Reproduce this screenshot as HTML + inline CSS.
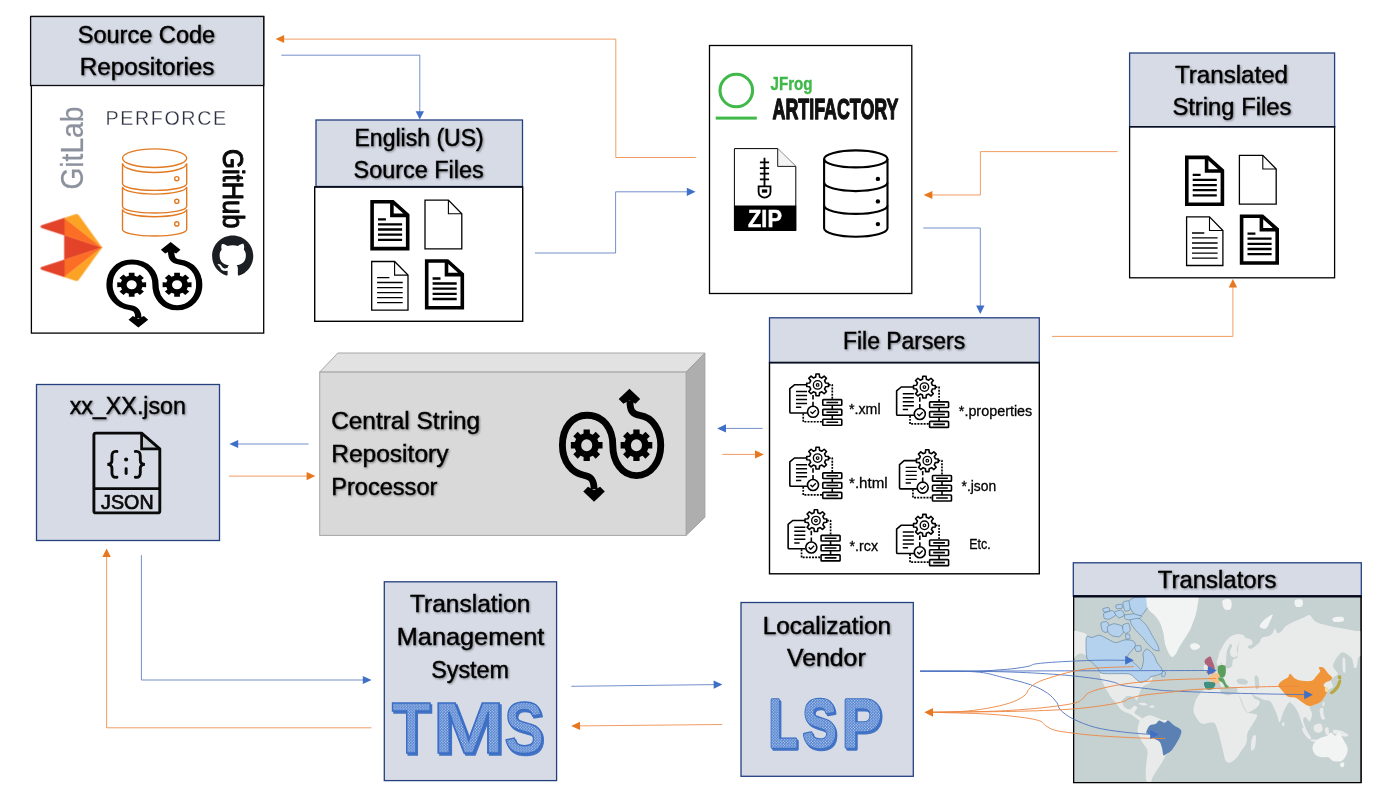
<!DOCTYPE html>
<html lang="en"><head><meta charset="utf-8"><title>Localization pipeline</title>
<style>
html,body{margin:0;padding:0;background:#fff;}
body{width:1400px;height:797px;overflow:hidden;font-family:"Liberation Sans",sans-serif;}
svg{display:block;will-change:transform;}
text{font-family:"Liberation Sans",sans-serif;}
.t{font-size:23px;fill:#000;stroke:#000;stroke-width:0.4px;filter:url(#ts);}
.s{font-size:15px;fill:#000;stroke:#000;stroke-width:0.3px;}
.ln{fill:none;stroke-width:0.85;}
.b{stroke:#5a7cc2;} .o{stroke:#ee8a48;}
.fb{fill:#3f6fc6;} .fo{fill:#e8781f;}
</style></head><body>
<svg width="1400" height="797" viewBox="0 0 1400 797">
<!-- 00_defs.svg -->
<defs>
  <filter id="ts" x="-5%" y="-20%" width="110%" height="150%">
    <feGaussianBlur in="SourceAlpha" stdDeviation="0.8" result="b"/>
    <feOffset in="b" dx="0.8" dy="0.8" result="o"/>
    <feComponentTransfer in="o" result="s"><feFuncA type="linear" slope="0.42"/></feComponentTransfer>
    <feMerge><feMergeNode in="s"/><feMergeNode in="SourceGraphic"/></feMerge>
  </filter>
  <pattern id="dots" width="2.8" height="2.8" patternUnits="userSpaceOnUse">
    <rect width="2.8" height="2.8" fill="#4377cb"/>
    <circle cx="0.7" cy="0.7" r="0.62" fill="#e4ecf9"/>
    <circle cx="2.1" cy="2.1" r="0.62" fill="#e4ecf9"/>
  </pattern>
</defs>

<!-- 01_syms.svg -->
<defs>
  <!-- bold document 39.2 x 50.4 -->
  <g id="docB">
    <path d="M1.8,1.8 H22.6 L37.4,15 V48.6 H1.8 Z" fill="#fff" stroke="#000" stroke-width="3.6" stroke-linejoin="miter"/>
    <path d="M21.6,1.8 V15.4 H37.4" fill="none" stroke="#000" stroke-width="3.6"/>
    <path d="M22.6,0.5 L38.7,14.8 V17 H36 Z" fill="#000"/>
    <path d="M7.7,19.3 H15.6 M7.7,24.3 H31.8 M7.7,29.5 H31.8 M7.7,34.6 H31.8 M7.7,39.8 H31.8" stroke="#000" stroke-width="2.3" fill="none"/>
  </g>
  <!-- thin empty document 38 x 50 -->
  <g id="docE">
    <path d="M0.6,0.6 H24 L37.4,14.2 V49.4 H0.6 Z" fill="#fff" stroke="#000" stroke-width="1.3"/>
    <path d="M24,0.6 V14.2 H37.4" fill="none" stroke="#000" stroke-width="1.1"/>
  </g>
  <!-- thin document with lines 37.5 x 49.8 -->
  <g id="docL">
    <path d="M0.6,0.6 H23.5 L36.9,14.2 V49.2 H0.6 Z" fill="#fff" stroke="#000" stroke-width="1.3"/>
    <path d="M23.5,0.6 V14.2 H36.9" fill="none" stroke="#000" stroke-width="1.1"/>
    <path d="M6,16.7 H18.3 M6,21.6 H31.6 M6,26.7 H31.6 M6,31.7 H31.6 M6,36.8 H31.6 M6,41.8 H31.6" stroke="#000" stroke-width="1.3" fill="none"/>
  </g>
</defs>

<!-- 02_syms2.svg -->
<defs>
  <g id="gearloop">
    <path d="M270,670 C270,610 250,590 210,584 C135,572 76,500 76,400 C76,290 140,216 225,216 C330,216 385,300 385,400 C385,500 440,586 530,586 C620,586 679,500 679,400 C679,300 625,228 550,217 C505,210 490,190 490,125" fill="none" stroke="#000" stroke-width="42"/>
    <polygon points="270,747 204,683 233,654 270,676 307,654 336,683"/>
    <polygon points="487,53 421,117 450,146 487,124 524,146 553,117"/>
    <path fill-rule="evenodd" d="M205.8,327.5 L205.7,302.9 L244.3,302.9 L244.2,327.5 L262.7,335.1 L280.0,317.7 L307.3,345.0 L289.9,362.3 L297.5,380.8 L322.1,380.7 L322.1,419.3 L297.5,419.2 L289.9,437.7 L307.3,455.0 L280.0,482.3 L262.7,464.9 L244.2,472.5 L244.3,497.1 L205.7,497.1 L205.8,472.5 L187.3,464.9 L170.0,482.3 L142.7,455.0 L160.1,437.7 L152.5,419.2 L127.9,419.3 L127.9,380.7 L152.5,380.8 L160.1,362.3 L142.7,345.0 L170.0,317.7 L187.3,335.1 Z M191.0,400.0 a34.0,37.0 0 1 0 68.0,0 a34.0,37.0 0 1 0 -68.0,0 Z"/>
    <path fill-rule="evenodd" d="M510.8,327.5 L510.7,302.9 L549.3,302.9 L549.2,327.5 L567.7,335.1 L585.0,317.7 L612.3,345.0 L594.9,362.3 L602.5,380.8 L627.1,380.7 L627.1,419.3 L602.5,419.2 L594.9,437.7 L612.3,455.0 L585.0,482.3 L567.7,464.9 L549.2,472.5 L549.3,497.1 L510.7,497.1 L510.8,472.5 L492.3,464.9 L475.0,482.3 L447.7,455.0 L465.1,437.7 L457.5,419.2 L432.9,419.3 L432.9,380.7 L457.5,380.8 L465.1,362.3 L447.7,345.0 L475.0,317.7 L492.3,335.1 Z M496.0,400.0 a34.0,37.0 0 1 0 68.0,0 a34.0,37.0 0 1 0 -68.0,0 Z"/>
  </g>
  <g id="parser" fill="none" stroke="#000" stroke-width="18" stroke-linejoin="round" stroke-linecap="butt">
    <path d="M196,124 L58,124 L6,168 L6,430 Q6,442 18,442 L203,442"/>
    <path d="M75,200 H200 M75,245 H200 M75,290 H200 M75,335 H200 M75,377 H135" stroke-width="16"/>
    <path d="M297.5,35.5 L300.6,2.4 L337.4,2.4 L340.5,35.5 L367.1,46.6 L392.7,25.3 L418.7,51.3 L397.4,76.9 L408.5,103.5 L441.6,106.6 L441.6,143.4 L408.5,146.5 L397.4,173.1 L418.7,198.7 L392.7,224.7 L367.1,203.4 L340.5,214.5 L337.4,247.6 L300.6,247.6 L297.5,214.5 L270.9,203.4 L245.3,224.7 L219.3,198.7 L240.6,173.1 L229.5,146.5 L196.4,143.4 L196.4,106.6 L229.5,103.5 L240.6,76.9 L219.3,51.3 L245.3,25.3 L270.9,46.6 Z" fill="#fff"/>
    <circle cx="319" cy="125" r="48" stroke-width="15"/>
    <circle cx="319" cy="125" r="15" stroke-width="13"/>
    <path d="M267,240 V290 M267,315 V362"/>
    <circle cx="267" cy="428" r="62" fill="#fff"/>
    <path d="M238,426 L260,448 L299,409" stroke-width="15"/>
    <rect x="377" y="291" width="214" height="64" rx="8"/>
    <rect x="377" y="401" width="214" height="64" rx="8"/>
    <rect x="377" y="511" width="214" height="68" rx="8"/>
    <path d="M418,323 H550 M418,433 H550 M418,545 H550 M484,355 V401 M484,465 V511"/>
    <path d="M443,125 H484 V285" stroke-width="19" stroke-dasharray="22 13"/>
    <path d="M157,448 V540 H372" stroke-width="19" stroke-dasharray="22 13"/>
  </g>
</defs>

<!-- 10_boxes.svg -->
<g id="boxes">
  <!-- Source Code Repositories -->
  <rect x="31.4" y="16.5" width="232.3" height="316.6" fill="#fff" stroke="#000" stroke-width="1.3"/>
  <rect x="30.6" y="16.5" width="233.1" height="69" fill="#d6dbe6" stroke="#0c0c10" stroke-width="1.3"/>
  <!-- English (US) Source Files -->
  <rect x="314.7" y="187" width="208" height="134.3" fill="#fff" stroke="#000" stroke-width="1.4"/>
  <rect x="316" y="120" width="206.5" height="66.5" fill="#d6dbe6" stroke="#24407f" stroke-width="1.3"/>
  <line x1="314.5" y1="186.7" x2="523" y2="186.7" stroke="#0a0f1e" stroke-width="1.6"/>
  <!-- Artifactory -->
  <rect x="709.5" y="45.5" width="202.3" height="248" fill="#fff" stroke="#000" stroke-width="1.3"/>
  <!-- Translated String Files -->
  <rect x="1129.6" y="126.5" width="205" height="151.3" fill="#fff" stroke="#000" stroke-width="1.3"/>
  <rect x="1129.6" y="53" width="205" height="73.7" fill="#d6dbe6" stroke="#24407f" stroke-width="1.3"/>
  <line x1="1129" y1="126.8" x2="1335.2" y2="126.8" stroke="#0a0f1e" stroke-width="1.6"/>
  <!-- File Parsers -->
  <rect x="769.5" y="362.6" width="269.8" height="211.2" fill="#fff" stroke="#000" stroke-width="1.4"/>
  <rect x="769.5" y="317.8" width="269.8" height="44.8" fill="#d6dbe6" stroke="#24407f" stroke-width="1.3"/>
  <line x1="769" y1="362.6" x2="1040" y2="362.6" stroke="#0a0f1e" stroke-width="1.5"/>
  <!-- xx_XX.json -->
  <rect x="36.5" y="384.5" width="183" height="156" fill="#d6dbe6" stroke="#24407f" stroke-width="1.3"/>
  <!-- TMS -->
  <rect x="384.3" y="581.8" width="172.3" height="198.8" fill="#d6dbe6" stroke="#24407f" stroke-width="1.3"/>
  <!-- LSP -->
  <rect x="741" y="602.5" width="172.3" height="173.8" fill="#d6dbe6" stroke="#24407f" stroke-width="1.3"/>
  <!-- Translators -->
  <rect x="1073.3" y="562.8" width="288" height="33.4" fill="#d6dbe6" stroke="#24407f" stroke-width="1.3"/>
  <!-- 3D processor box -->
  <polygon points="319.7,372.1 337.8,353 704.9,353 686.1,372.1" fill="#e2e2e2" stroke="#a6a6a6" stroke-width="1"/>
  <polygon points="686.1,372.1 704.9,353 704.9,517.3 686.1,535.4" fill="#aeaeae" stroke="#a0a0a0" stroke-width="1"/>
  <rect x="319.7" y="372.1" width="366.4" height="163.3" fill="#d9d9d9" stroke="#a6a6a6" stroke-width="1"/>
</g>

<!-- 20_text.svg -->
<g id="titles">
  <text class="t" x="77.7" y="42.9" textLength="137.5" lengthAdjust="spacingAndGlyphs">Source Code</text>
  <text class="t" x="79.7" y="75.4" textLength="134.8" lengthAdjust="spacingAndGlyphs">Repositories</text>
  <text class="t" x="354.5" y="146" textLength="129.2" lengthAdjust="spacingAndGlyphs">English (US)</text>
  <text class="t" x="353.5" y="178.2" textLength="130.2" lengthAdjust="spacingAndGlyphs">Source Files</text>
  <text class="t" x="1175" y="82.6" textLength="113" lengthAdjust="spacingAndGlyphs">Translated</text>
  <text class="t" x="1172.4" y="114.8" textLength="119" lengthAdjust="spacingAndGlyphs">String Files</text>
  <text class="t" x="843" y="348.8" textLength="122.2" lengthAdjust="spacingAndGlyphs">File Parsers</text>
  <text class="t" x="69.7" y="414" textLength="116.3" lengthAdjust="spacingAndGlyphs">xx_XX.json</text>
  <text class="t" x="331.2" y="428.7" textLength="149" lengthAdjust="spacingAndGlyphs">Central String</text>
  <text class="t" x="331.2" y="461.5" textLength="117.3" lengthAdjust="spacingAndGlyphs">Repository</text>
  <text class="t" x="331.2" y="495.3" textLength="106.2" lengthAdjust="spacingAndGlyphs">Processor</text>
  <text class="t" x="410" y="612" textLength="120.3" lengthAdjust="spacingAndGlyphs">Translation</text>
  <text class="t" x="396.8" y="645" textLength="147.6" lengthAdjust="spacingAndGlyphs">Management</text>
  <text class="t" x="431.2" y="678" textLength="77.8" lengthAdjust="spacingAndGlyphs">System</text>
  <text class="t" x="762.7" y="633.5" textLength="128.3" lengthAdjust="spacingAndGlyphs">Localization</text>
  <text class="t" x="787" y="665.6" textLength="78.7" lengthAdjust="spacingAndGlyphs">Vendor</text>
  <text class="t" x="1157.8" y="588.4" textLength="118.7" lengthAdjust="spacingAndGlyphs">Translators</text>
</g>
<g id="parser-labels">
  <text class="s" x="849" y="413.6" textLength="31.6" lengthAdjust="spacingAndGlyphs">*.xml</text>
  <text class="s" x="958.8" y="416.2" textLength="73.5" lengthAdjust="spacingAndGlyphs">*.properties</text>
  <text class="s" x="849" y="488" textLength="38.7" lengthAdjust="spacingAndGlyphs">*.html</text>
  <text class="s" x="961.5" y="491.3" textLength="34.7" lengthAdjust="spacingAndGlyphs">*.json</text>
  <text class="s" x="849.6" y="551.3" textLength="28.4" lengthAdjust="spacingAndGlyphs">*.rcx</text>
  <text class="s" x="969.2" y="549.1" textLength="21.5" lengthAdjust="spacingAndGlyphs">Etc.</text>
</g>

<!-- 30_arrows.svg -->
<g id="arrows">
  <!-- orange: artifactory -> source code repos -->
  <polyline class="ln o" points="695.8,157.5 615.8,157.5 615.8,39.1 283,39.1"/>
  <polygon class="fo" points="275.6,39.1 284.1,35.1 284.1,43.1"/>
  <!-- blue: source code repos -> english -->
  <polyline class="ln b" points="281.3,55.2 419.8,55.2 419.8,112"/>
  <polygon class="fb" points="419.8,119.4 415.6,111.2 424,111.2"/>
  <!-- blue: english -> artifactory -->
  <polyline class="ln b" points="535,253 615.6,253 615.6,191.8 688,191.8"/>
  <polygon class="fb" points="695.6,191.8 686.8,187.7 686.8,195.9"/>
  <!-- orange: translated -> artifactory -->
  <polyline class="ln o" points="1117.6,151.6 980.4,151.6 980.4,195 931,195"/>
  <polygon class="fo" points="923.6,195 932.4,190.9 932.4,199.1"/>
  <!-- blue: artifactory -> file parsers -->
  <polyline class="ln b" points="923.3,228 980.3,228 980.3,306"/>
  <polygon class="fb" points="980.3,314 976.1,305.4 984.5,305.4"/>
  <!-- orange: file parsers -> translated -->
  <polyline class="ln o" points="1052,336.4 1232.9,336.4 1232.9,287"/>
  <polygon class="fo" points="1232.9,279 1228.7,287.6 1237.1,287.6"/>
  <!-- processor <-> file parsers -->
  <line class="ln b" x1="762.6" y1="428.4" x2="725" y2="428.4"/>
  <polygon class="fb" points="717.2,428.4 726,424.3 726,432.5"/>
  <line class="ln o" x1="722.3" y1="454.4" x2="756" y2="454.4"/>
  <polygon class="fo" points="763.8,454.4 755,450.3 755,458.5"/>
  <!-- json <-> processor -->
  <line class="ln b" x1="308.5" y1="444" x2="237" y2="444"/>
  <polygon class="fb" points="229.4,444 238.2,439.9 238.2,448.1"/>
  <line class="ln o" x1="228.9" y1="476.1" x2="308" y2="476.1"/>
  <polygon class="fo" points="315.4,476.1 306.6,472 306.6,480.2"/>
  <!-- json -> TMS (blue) -->
  <polyline class="ln b" points="141.4,555.2 141.4,680 364,680"/>
  <polygon class="fb" points="371.6,680 362.8,675.9 362.8,684.1"/>
  <!-- TMS -> json (orange) -->
  <polyline class="ln o" points="371.4,727.8 106.6,727.8 106.6,556"/>
  <polygon class="fo" points="106.6,548.4 102.4,557 110.8,557"/>
  <!-- TMS <-> LSP -->
  <line class="ln b" x1="571.3" y1="686.3" x2="715" y2="684.6"/>
  <polygon class="fb" points="722.4,684.5 713.6,680.5 713.7,688.7"/>
  <line class="ln o" x1="722.2" y1="724.5" x2="579" y2="725.9"/>
  <polygon class="fo" points="571.2,726 580,721.8 580.1,730"/>
</g>

<!-- 40_docs.svg -->
<g id="docs-english">
  <use href="#docB" x="370.3" y="200"/>
  <use href="#docE" x="424.4" y="199.5"/>
  <use href="#docL" x="371.1" y="260.9"/>
  <use href="#docB" x="424.9" y="259.2"/>
</g>
<g id="docs-translated">
  <use href="#docB" x="1185" y="155.6"/>
  <use href="#docE" x="1238.8" y="154.8"/>
  <use href="#docL" x="1186" y="216.3"/>
  <use href="#docB" x="1239.8" y="214.4"/>
</g>

<!-- 41_artifactory.svg -->
<g id="artifactory">
  <!-- JFrog logo -->
  <circle cx="736.3" cy="90.5" r="16.3" fill="none" stroke="#40b84a" stroke-width="3.1"/>
  <rect x="715.7" y="116.6" width="41.1" height="3" fill="#40b84a"/>
  <text x="770.6" y="90" font-size="17.5" font-weight="bold" fill="#40b84a" stroke="#40b84a" stroke-width="0.4" textLength="42" lengthAdjust="spacingAndGlyphs">JFrog</text>
  <text transform="translate(772.5,118.9) scale(0.6,1)" x="0" y="0" font-size="29.4" font-weight="bold" fill="#111" stroke="#111" stroke-width="1.4" stroke-linejoin="round" textLength="210" lengthAdjust="spacingAndGlyphs">ARTIFACTORY</text>
  <!-- ZIP file -->
  <path d="M734.4,148.6 H777.7 L795.8,166.4 V230.5 H734.4 Z" fill="#fff" stroke="#000" stroke-width="1"/>
  <path d="M777.7,148.6 V166.4 H795.8" fill="#f4f4f4" stroke="#000" stroke-width="0.9"/>
  <rect x="734" y="205.5" width="62.2" height="25.4" fill="#000"/>
  <text x="748.1" y="227" font-size="24.3" font-weight="bold" fill="#fff" stroke="#fff" stroke-width="0.5" textLength="33.8" lengthAdjust="spacingAndGlyphs">ZIP</text>
  <path d="M764.5,157.8 V186 M759.9,162.4 H769.1 M759.9,168.1 H769.1 M759.9,173.7 H769.1 M759.9,179.3 H769.1" stroke="#000" stroke-width="1.8" fill="none"/>
  <path d="M758.6,186.4 H770.5 V192 A5.95,5.6 0 0 1 758.6,192 Z" fill="none" stroke="#000" stroke-width="1.8"/>
  <rect x="761.9" y="189.4" width="5.3" height="3.3" fill="#000"/>
  <!-- database -->
  <g fill="none" stroke="#000" stroke-width="2.1">
    <ellipse cx="855.8" cy="158.9" rx="31.7" ry="8.5" fill="#fff"/>
    <path d="M824.1,158.9 V228.2 A31.7,8.5 0 0 0 887.5,228.2 V158.9"/>
    <path d="M824.1,182.6 A31.7,8.5 0 0 0 887.5,182.6"/>
    <path d="M824.1,205.4 A31.7,8.5 0 0 0 887.5,205.4"/>
  </g>
  <circle cx="877.9" cy="178.9" r="2.2"/><circle cx="877.9" cy="201.4" r="2.2"/><circle cx="877.9" cy="224.1" r="2.2"/>
</g>

<!-- 42_source.svg -->
<g id="source-repos">
  <!-- PERFORCE -->
  <text x="105.6" y="125.4" font-size="19.7" fill="#2b2e40" stroke="#fff" stroke-width="0.3" textLength="120.5" lengthAdjust="spacing">PERFORCE</text>
  <!-- GitLab text (rotated) -->
  <text transform="translate(82.6,189.6) rotate(-90)" font-size="30.5" fill="#8c929d" stroke="#8c929d" stroke-width="0.25" textLength="83" lengthAdjust="spacingAndGlyphs">GitLab</text>
  <!-- GitHub text (rotated) -->
  <text transform="translate(223.1,149.1) rotate(90)" font-size="28.8" fill="#0b0b0b" stroke="#0b0b0b" stroke-width="1.05" stroke-linejoin="round" textLength="79.4" lengthAdjust="spacingAndGlyphs">GitHub</text>
  <!-- orange database -->
  <g fill="none" stroke="#e27a22" stroke-width="1.4">
    <ellipse cx="154.6" cy="158.2" rx="32.1" ry="9.3"/>
    <path d="M122.5,163.2 V183.8 A32.1,6.6 0 0 0 186.7,183.8 V163.2 A32.1,9.3 0 0 1 122.5,163.2"/>
    <path d="M122.5,186.7 V206.4 A32.1,6.6 0 0 0 186.7,206.4 V186.7 A32.1,7.4 0 0 1 122.5,186.7"/>
    <path d="M122.5,209.3 V229.6 A32.1,6.4 0 0 0 186.7,229.6 V209.3 A32.1,7.4 0 0 1 122.5,209.3"/>
    <circle cx="176.8" cy="178.7" r="2.1"/><circle cx="176.8" cy="201.3" r="2.1"/><circle cx="176.8" cy="223.9" r="2.1"/>
  </g>
</g>

<!-- 43_icons.svg -->
<g id="gear-icons">
  <!-- big gear loop in processor box: zoom coords origin (550,380) scale 1/6.13 -->
  <use href="#gearloop" transform="translate(550,380) scale(0.16313)"/>
  <!-- small gear loop in source box: bbox (55,53)-(700,747) -> (106.4,241.9)-(202.4,327.6) -->
  <use href="#gearloop" transform="translate(98.2,235.35) scale(0.1488,0.1235)"/>
</g>
<g id="parser-icons">
  <use href="#parser" transform="translate(789.3,373.8) scale(0.0888)"/>
  <use href="#parser" transform="translate(896.1,376) scale(0.0888)"/>
  <use href="#parser" transform="translate(789.3,447) scale(0.0888)"/>
  <use href="#parser" transform="translate(899,449.6) scale(0.0888)"/>
  <use href="#parser" transform="translate(787.6,509.5) scale(0.0888)"/>
  <use href="#parser" transform="translate(896.1,514.2) scale(0.0888)"/>
</g>

<!-- 44_logos.svg -->
<g id="github-mark" transform="translate(212.1,235.4) scale(2.575)">
  <path fill="#1b1f23" fill-rule="evenodd" d="M8 0C3.58 0 0 3.58 0 8c0 3.54 2.29 6.53 5.47 7.59.4.07.55-.17.55-.38 0-.19-.01-.82-.01-1.49-2.01.37-2.53-.49-2.69-.94-.09-.23-.48-.94-.82-1.13-.28-.15-.68-.52-.01-.53.63-.01 1.08.58 1.23.82.72 1.21 1.87.87 2.33.66.07-.52.28-.87.51-1.07-1.78-.2-3.64-.89-3.64-3.95 0-.87.31-1.59.82-2.15-.08-.2-.36-1.02.08-2.12 0 0 .67-.21 2.2.82.64-.18 1.32-.27 2-.27.68 0 1.36.09 2 .27 1.53-1.04 2.2-.82 2.2-.82.44 1.1.16 1.92.08 2.12.51.56.82 1.27.82 2.15 0 3.07-1.87 3.75-3.65 3.95.29.25.54.73.54 1.48 0 1.07-.01 1.93-.01 2.2 0 .21.15.46.55.38A8.013 8.013 0 0016 8c0-4.42-3.58-8-8-8z"/>
</g>
<!-- GitLab tanuki rotated: tip points right. local coords: logo upright in 0..337 x 0..311 box (tip at bottom) -->
<g id="gitlab-mark" transform="translate(40.6,280.8) rotate(-90) scale(0.1976,0.1974)">
  <!-- upright logo: width 337 (x), height 311 (y); ears at top, tip bottom -->
  <polygon fill="#e24329" stroke="#e24329" stroke-width="2" stroke-linejoin="round" points="168.5,311 230.6,120 106.4,120"/>
  <polygon fill="#fc6d26" stroke="#fc6d26" stroke-width="2" stroke-linejoin="round" points="168.5,311 106.4,120 19.4,120"/>
  <path fill="#fca326" stroke="#fca326" stroke-width="2" stroke-linejoin="round" d="M19.4,120 L0.6,178 C-1.2,183.3 0.7,189.1 5.2,192.4 L168.5,311 Z"/>
  <path fill="#e24329" stroke="#e24329" stroke-width="2" stroke-linejoin="round" d="M19.4,120 H106.4 L69,4.9 C67.1,-1 58.7,-1 56.8,4.9 Z"/>
  <polygon fill="#fc6d26" stroke="#fc6d26" stroke-width="2" stroke-linejoin="round" points="168.5,311 230.6,120 317.6,120"/>
  <path fill="#fca326" stroke="#fca326" stroke-width="2" stroke-linejoin="round" d="M317.6,120 L336.4,178 C338.2,183.3 336.3,189.1 331.8,192.4 L168.5,311 Z"/>
  <path fill="#e24329" stroke="#e24329" stroke-width="2" stroke-linejoin="round" d="M317.6,120 H230.6 L268,4.9 C269.9,-1 278.3,-1 280.2,4.9 Z"/>
</g>

<!-- 45_json_tms.svg -->
<g id="json-icon">
  <path d="M141.6,433.1 L159.8,448.8 H141.6 Z" fill="#c9cdd4"/>
  <path d="M96,433.1 H141.6 L159.8,448.8 V510.9 Q159.8,512.9 157.8,512.9 H96 Q93.9,512.9 93.9,510.9 V435.1 Q93.9,433.1 96,433.1 Z" fill="none" stroke="#0a0a0a" stroke-width="2.9" stroke-linejoin="round"/>
  <path d="M141.6,433.1 V448.8 H159.8" fill="none" stroke="#0a0a0a" stroke-width="2.7"/>
  <line x1="93.9" y1="488.6" x2="159.8" y2="488.6" stroke="#0a0a0a" stroke-width="2.9"/>
  <text x="101.1" y="508.5" font-size="20.1" fill="#0a0a0a" stroke="#0a0a0a" stroke-width="0.7" textLength="52.5" lengthAdjust="spacingAndGlyphs">JSON</text>
  <g transform="translate(85,425) scale(0.11922)" fill="none" stroke="#0a0a0a" stroke-width="24" stroke-linecap="round">
    <path d="M268,222 C235,216 226,236 226,260 V298 C226,320 212,328 188,330 C212,332 226,340 226,362 V400 C226,424 235,444 268,438"/>
    <path d="M422,222 C455,216 464,236 464,260 V298 C464,320 478,328 502,330 C478,332 464,340 464,362 V400 C464,424 455,444 422,438"/>
    <path d="M345,366 V406" stroke-width="25"/>
    <circle cx="345" cy="290" r="17" fill="#0a0a0a" stroke="none"/>
  </g>
</g>
<g id="tms-lsp" font-weight="bold" lengthAdjust="spacingAndGlyphs">
  <text aria-label="TMS" y="755.2" font-size="73" fill="#4273c5" stroke="#4273c5" stroke-width="1.5"><tspan x="393.3" textLength="39" lengthAdjust="spacingAndGlyphs">T</tspan><tspan x="434.2" textLength="72.4" lengthAdjust="spacingAndGlyphs">M</tspan><tspan x="505.8" textLength="40" lengthAdjust="spacingAndGlyphs">S</tspan></text>
  <text aria-label="TMS" y="753.3" font-size="73" fill="url(#dots)" stroke="#3b6ec4" stroke-width="1.5"><tspan x="391.7" textLength="39" lengthAdjust="spacingAndGlyphs">T</tspan><tspan x="432.6" textLength="72.4" lengthAdjust="spacingAndGlyphs">M</tspan><tspan x="504.2" textLength="40" lengthAdjust="spacingAndGlyphs">S</tspan></text>
  <text aria-label="LSP" y="748.9" font-size="68.6" fill="#4273c5" stroke="#4273c5" stroke-width="3.6" stroke-linejoin="round"><tspan x="770.3" textLength="28.7" lengthAdjust="spacingAndGlyphs">L</tspan><tspan x="804.3" textLength="33.8" lengthAdjust="spacingAndGlyphs">S</tspan><tspan x="843.8" textLength="39.3" lengthAdjust="spacingAndGlyphs">P</tspan></text>
  <text aria-label="LSP" y="747" font-size="68.6" fill="#3b6ec4" stroke="#3b6ec4" stroke-width="3.6" stroke-linejoin="round"><tspan x="768.7" textLength="28.7" lengthAdjust="spacingAndGlyphs">L</tspan><tspan x="802.7" textLength="33.8" lengthAdjust="spacingAndGlyphs">S</tspan><tspan x="842.2" textLength="39.3" lengthAdjust="spacingAndGlyphs">P</tspan></text>
  <text aria-label="LSP" y="747" font-size="68.6" fill="url(#dots)" stroke="url(#dots)" stroke-width="1.3" stroke-linejoin="round"><tspan x="768.7" textLength="28.7" lengthAdjust="spacingAndGlyphs">L</tspan><tspan x="802.7" textLength="33.8" lengthAdjust="spacingAndGlyphs">S</tspan><tspan x="842.2" textLength="39.3" lengthAdjust="spacingAndGlyphs">P</tspan></text>
</g>

<!-- 50_map.svg -->
<g id="map">
<clipPath id="mapclip"><rect x="1074" y="596.8" width="286.6" height="185.4"/></clipPath>
<rect x="1073.6" y="596.2" width="287.5" height="186.4" fill="#c5d2d1" stroke="#000" stroke-width="1.1"/>
<g clip-path="url(#mapclip)">
<path d="M1072.4,633.2 C1073.8,628.8 1078.3,631.6 1080.7,632.0 C1083.2,632.4 1086.0,633.4 1087.2,635.5 C1088.4,637.7 1087.9,641.8 1087.9,645.1 C1087.9,648.3 1088.2,653.7 1087.2,655.1 C1086.2,656.5 1083.6,653.5 1081.9,653.4 C1080.3,653.3 1078.7,653.8 1077.2,654.6 C1075.6,655.4 1073.2,661.8 1072.4,658.2 C1071.6,654.6 1071.0,637.5 1072.4,633.2 Z" fill="#e9ebea" />
<path d="M1100.5,672.5 C1102.9,670.8 1112.2,673.4 1117.7,673.7 C1123.1,674.0 1129.5,673.9 1133.2,674.2 C1136.8,674.5 1137.8,674.8 1139.6,675.6 C1141.5,676.4 1142.3,678.7 1144.4,678.9 C1146.5,679.2 1151.4,676.6 1152.3,677.3 C1153.2,677.9 1151.5,681.2 1149.9,682.8 C1148.3,684.3 1144.4,685.1 1142.7,686.8 C1141.0,688.5 1140.6,690.5 1139.6,692.8 C1138.6,695.0 1137.7,699.7 1136.8,700.4 C1135.8,701.1 1135.5,697.8 1133.9,697.1 C1132.3,696.3 1129.2,695.6 1127.2,696.1 C1125.2,696.6 1123.7,700.0 1122.0,699.9 C1120.2,699.8 1119.0,696.8 1116.7,695.6 C1114.5,694.4 1110.9,694.8 1108.6,692.8 C1106.4,690.8 1104.7,687.1 1103.4,683.7 C1102.0,680.3 1098.1,674.2 1100.5,672.5 Z" fill="#e9ebea" />
<path d="M1108.6,692.3 C1109.6,692.0 1114.6,694.0 1116.7,695.2 C1118.9,696.3 1120.3,697.5 1121.5,699.4 C1122.7,701.4 1122.5,704.9 1123.9,706.6 C1125.2,708.3 1127.9,709.6 1129.6,709.5 C1131.4,709.3 1133.1,706.1 1134.4,705.9 C1135.7,705.6 1137.2,706.9 1137.2,708.0 C1137.2,709.2 1134.0,711.4 1134.4,712.8 C1134.8,714.2 1138.0,715.4 1139.6,716.6 C1141.3,717.8 1143.3,719.0 1144.4,720.0 C1145.5,720.9 1146.8,722.3 1146.3,722.6 C1145.8,722.9 1143.3,722.6 1141.5,721.9 C1139.8,721.1 1137.8,719.4 1135.8,718.0 C1133.8,716.7 1132.0,715.1 1129.6,713.8 C1127.2,712.4 1123.9,711.8 1121.5,709.9 C1119.1,708.0 1117.1,704.5 1115.3,702.3 C1113.6,700.2 1112.1,698.7 1111.0,697.1 C1109.9,695.4 1107.7,692.6 1108.6,692.3 Z" fill="#e9ebea" />
<path d="M1138.7,703.5 C1138.9,703.1 1142.5,702.6 1143.9,702.8 C1145.4,703.0 1147.7,704.3 1147.5,704.7 C1147.3,705.1 1144.2,705.6 1142.7,705.4 C1141.3,705.2 1138.5,703.9 1138.7,703.5 Z" fill="#e9ebea" />
<path d="M1149.9,705.9 C1150.5,705.6 1153.3,705.4 1153.9,705.6 C1154.6,705.9 1154.6,707.2 1153.9,707.6 C1153.3,707.9 1150.8,707.8 1150.1,707.6 C1149.4,707.3 1149.2,706.2 1149.9,705.9 Z" fill="#e9ebea" />
<path d="M1086.4,637.3 C1087.0,634.7 1090.0,637.8 1091.7,637.5 C1093.3,637.2 1097.2,635.3 1098.8,635.2 C1100.3,635.1 1102.1,636.2 1103.5,636.8 C1104.9,637.5 1107.7,639.1 1109.4,639.9 C1111.0,640.7 1113.8,642.7 1115.9,642.7 C1117.9,642.7 1122.5,640.1 1124.7,639.9 C1127.0,639.6 1131.5,640.1 1133.0,640.8 C1134.4,641.6 1135.9,644.1 1135.6,645.6 C1135.3,647.0 1132.0,649.9 1130.9,651.5 C1129.8,653.0 1127.0,655.9 1127.3,657.3 C1127.6,658.8 1131.5,660.8 1133.0,662.1 C1134.5,663.3 1137.2,665.8 1138.3,666.8 C1139.4,667.8 1140.5,670.3 1141.2,669.4 C1142.0,668.4 1143.4,661.8 1143.6,659.7 C1143.8,657.6 1142.7,655.2 1143.0,653.8 C1143.4,652.4 1145.2,649.4 1146.2,649.1 C1147.2,648.8 1149.6,650.5 1150.7,651.5 C1151.8,652.4 1153.6,655.0 1154.5,656.4 C1155.3,657.8 1155.9,660.5 1156.8,662.1 C1157.7,663.6 1160.5,666.8 1161.3,668.2 C1162.1,669.6 1163.4,671.7 1162.7,672.7 C1162.1,673.6 1158.2,674.7 1156.6,675.3 C1155.0,675.8 1151.6,676.3 1150.7,676.7 C1149.7,677.1 1150.3,678.0 1149.5,678.6 C1148.7,679.2 1146.0,680.7 1144.8,681.2 C1143.6,681.7 1141.6,682.7 1140.3,682.4 C1139.0,682.0 1136.9,679.7 1135.3,678.6 C1133.8,677.5 1132.9,674.6 1128.5,673.9 C1124.1,673.2 1106.4,674.2 1102.3,673.4 C1098.2,672.6 1099.0,669.5 1097.6,668.0 C1096.2,666.5 1093.1,663.5 1091.7,662.1 C1090.2,660.7 1087.4,660.7 1086.7,657.3 C1086.0,654.0 1085.7,639.9 1086.4,637.3 Z" fill="#b4d2ee" stroke="#4a6a86" stroke-width="0.5"/>
<path d="M1100.9,623.0 C1101.3,622.2 1106.0,621.3 1106.7,621.6 C1107.4,621.9 1109.6,625.7 1109.6,626.6 C1109.6,627.5 1107.3,632.0 1106.7,632.4 C1106.1,632.7 1102.9,631.7 1102.4,630.9 C1101.9,630.2 1100.6,623.8 1100.9,623.0 Z" fill="#b4d2ee" stroke="#4a6a86" stroke-width="0.5"/>
<path d="M1107.4,626.6 C1107.9,625.9 1112.7,623.8 1113.9,623.7 C1115.1,623.6 1120.9,625.2 1121.8,625.9 C1122.6,626.5 1124.1,630.7 1123.9,631.6 C1123.7,632.5 1120.6,636.3 1119.6,636.7 C1118.7,637.0 1113.4,636.3 1112.4,635.9 C1111.5,635.6 1108.5,633.1 1108.1,632.3 C1107.7,631.6 1106.9,627.3 1107.4,626.6 Z" fill="#b4d2ee" stroke="#4a6a86" stroke-width="0.5"/>
<path d="M1123.0,624.8 C1123.5,624.2 1128.1,622.9 1128.7,623.4 C1129.3,623.9 1130.4,629.7 1130.2,630.6 C1129.9,631.4 1126.5,633.5 1125.9,633.5 C1125.3,633.5 1123.2,631.3 1123.0,630.6 C1122.7,629.9 1122.5,625.4 1123.0,624.8 Z" fill="#b4d2ee" stroke="#4a6a86" stroke-width="0.5"/>
<path d="M1125.5,634.6 C1125.8,634.2 1129.2,633.9 1129.5,634.3 C1129.9,634.6 1130.1,638.2 1129.8,638.6 C1129.5,639.0 1126.4,639.2 1126.1,638.9 C1125.7,638.6 1125.2,635.0 1125.5,634.6 Z" fill="#b4d2ee" stroke="#4a6a86" stroke-width="0.5"/>
<path d="M1103.7,613.4 C1104.3,612.7 1111.3,610.4 1112.3,610.5 C1113.3,610.6 1116.2,614.1 1115.9,614.8 C1115.7,615.5 1110.4,618.8 1109.4,619.1 C1108.5,619.4 1104.9,618.9 1104.4,618.4 C1103.9,617.9 1103.0,614.0 1103.7,613.4 Z" fill="#b4d2ee" stroke="#4a6a86" stroke-width="0.5"/>
<path d="M1114.3,612.2 C1114.6,611.6 1120.7,609.8 1121.5,610.1 C1122.4,610.3 1124.6,614.4 1124.4,615.1 C1124.2,615.8 1119.5,618.2 1118.6,618.0 C1117.8,617.7 1114.1,612.9 1114.3,612.2 Z" fill="#b4d2ee" stroke="#4a6a86" stroke-width="0.5"/>
<path d="M1124.4,615.1 C1125.2,614.6 1134.5,613.6 1135.9,613.7 C1137.4,613.8 1141.7,616.0 1141.7,616.6 C1141.7,617.1 1137.2,619.9 1135.9,620.2 C1134.6,620.4 1126.8,619.9 1125.8,619.4 C1124.9,619.0 1123.6,615.6 1124.4,615.1 Z" fill="#b4d2ee" stroke="#4a6a86" stroke-width="0.5"/>
<path d="M1127.3,602.5 C1127.6,601.6 1132.7,597.9 1134.5,597.4 C1136.3,597.0 1147.4,596.3 1148.9,596.7 C1150.3,597.1 1152.0,601.4 1151.7,602.5 C1151.5,603.6 1146.8,608.6 1146.0,609.7 C1145.1,610.8 1142.6,615.1 1141.7,615.4 C1140.7,615.8 1135.4,614.6 1134.5,614.0 C1133.5,613.4 1130.8,609.2 1130.2,608.2 C1129.6,607.3 1126.9,603.4 1127.3,602.5 Z" fill="#b4d2ee" stroke="#4a6a86" stroke-width="0.5"/>
<path d="M1122.9,602.4 C1123.2,601.6 1128.0,600.4 1128.6,601.0 C1129.2,601.6 1130.4,608.8 1130.1,609.6 C1129.8,610.5 1125.6,611.7 1125.0,611.1 C1124.4,610.5 1122.6,603.3 1122.9,602.4 Z" fill="#b4d2ee" stroke="#4a6a86" stroke-width="0.5"/>
<path d="M1130.3,619.9 C1130.9,619.4 1137.7,618.1 1139.0,618.5 C1140.3,618.9 1145.1,623.6 1146.2,625.0 C1147.3,626.3 1151.0,633.3 1151.9,635.0 C1152.9,636.7 1157.1,643.8 1157.7,645.1 C1158.3,646.4 1159.5,650.5 1159.1,650.9 C1158.8,651.2 1154.3,650.0 1153.4,649.4 C1152.4,648.8 1148.6,644.7 1147.6,643.7 C1146.7,642.6 1142.8,637.5 1141.9,636.5 C1140.9,635.4 1136.9,631.7 1136.1,630.7 C1135.3,629.8 1132.3,625.9 1131.8,625.0 C1131.3,624.1 1129.7,620.5 1130.3,619.9 Z" fill="#b4d2ee" stroke="#4a6a86" stroke-width="0.5"/>
<path d="M1134.7,646.3 C1135.1,645.9 1140.0,645.3 1140.5,645.6 C1141.0,646.0 1141.6,650.2 1141.2,650.7 C1140.9,651.1 1136.7,651.7 1136.2,651.4 C1135.6,651.0 1134.4,646.8 1134.7,646.3 Z" fill="#b4d2ee" stroke="#4a6a86" stroke-width="0.5"/>
<path d="M1102.9,608.8 C1103.3,608.4 1108.1,607.2 1108.6,607.4 C1109.2,607.5 1109.9,610.7 1109.5,611.1 C1109.1,611.5 1104.6,612.2 1104.0,612.0 C1103.5,611.8 1102.5,609.2 1102.9,608.8 Z" fill="#b4d2ee" stroke="#4a6a86" stroke-width="0.5"/>
<path d="M1115.9,605.2 C1116.3,604.8 1121.1,604.1 1121.7,604.3 C1122.2,604.6 1122.7,607.7 1122.2,608.1 C1121.8,608.4 1117.0,608.9 1116.5,608.6 C1115.9,608.4 1115.5,605.6 1115.9,605.2 Z" fill="#b4d2ee" stroke="#4a6a86" stroke-width="0.5"/>
<path d="M1162.5,671.0 C1162.8,670.6 1165.2,672.0 1165.4,672.4 C1165.6,672.8 1165.1,675.8 1164.8,676.1 C1164.5,676.5 1161.9,676.9 1161.7,676.4 C1161.5,676.0 1162.2,671.3 1162.5,671.0 Z" fill="#b4d2ee" stroke="#4a6a86" stroke-width="0.5"/>
<path d="M1146.8,604.5 C1146.6,601.1 1144.8,593.0 1148.7,590.2 C1152.6,587.4 1162.2,587.8 1170.2,587.8 C1178.1,587.8 1191.9,586.7 1196.4,590.2 C1200.8,593.8 1197.6,603.5 1196.9,609.3 C1196.1,615.1 1193.7,620.8 1192.1,625.0 C1190.5,629.3 1189.3,631.2 1187.3,634.6 C1185.3,638.0 1182.1,642.4 1180.2,645.6 C1178.3,648.7 1177.2,651.8 1175.9,653.7 C1174.5,655.6 1173.3,657.2 1172.1,657.0 C1170.8,656.8 1169.4,654.5 1168.2,652.2 C1167.1,649.9 1165.7,646.3 1164.9,643.2 C1164.1,640.1 1164.3,637.0 1163.5,633.6 C1162.7,630.3 1161.6,626.2 1160.1,623.1 C1158.7,620.1 1156.6,617.6 1154.9,615.5 C1153.1,613.4 1151.0,612.6 1149.6,610.7 C1148.3,608.9 1146.9,608.0 1146.8,604.5 Z" fill="#f2f4f3" />
<path d="M1190.4,644.6 C1191.2,643.7 1194.8,643.1 1196.4,643.4 C1198.0,643.7 1200.2,645.4 1200.2,646.5 C1200.2,647.6 1197.8,649.4 1196.4,649.8 C1195.0,650.2 1192.6,649.8 1191.6,648.9 C1190.6,648.0 1189.6,645.5 1190.4,644.6 Z" fill="#f2f4f3" />
<path d="M1141.1,719.5 C1142.7,718.1 1146.1,715.7 1148.7,715.4 C1151.2,715.1 1154.0,716.8 1156.3,717.6 C1158.6,718.3 1160.5,719.5 1162.5,720.0 C1164.5,720.4 1166.3,719.6 1168.2,720.4 C1170.2,721.3 1171.8,723.6 1174.0,725.2 C1176.1,726.8 1180.1,728.1 1181.1,730.0 C1182.2,731.8 1181.0,733.9 1180.2,736.2 C1179.4,738.4 1177.8,740.9 1176.4,743.3 C1174.9,745.7 1173.3,748.5 1171.6,750.5 C1169.8,752.5 1167.5,753.3 1165.9,755.2 C1164.3,757.2 1163.5,760.0 1162.0,762.4 C1160.6,764.8 1158.8,767.2 1157.3,769.6 C1155.8,771.9 1154.1,774.6 1153.0,776.7 C1151.9,778.8 1151.7,781.3 1150.6,782.0 C1149.5,782.6 1147.1,782.6 1146.3,780.5 C1145.5,778.5 1145.8,773.1 1145.8,769.6 C1145.9,766.1 1146.5,762.8 1146.8,759.5 C1147.0,756.3 1148.1,753.1 1147.3,750.0 C1146.4,746.9 1143.1,744.0 1141.5,740.9 C1139.9,737.8 1138.2,734.3 1137.7,731.4 C1137.2,728.5 1138.1,725.8 1138.7,723.8 C1139.2,721.8 1139.4,720.9 1141.1,719.5 Z" fill="#e9ebea" />
<path d="M1150.1,725.2 C1151.5,724.4 1154.3,724.6 1155.8,723.8 C1157.4,723.0 1157.7,720.6 1159.2,720.4 C1160.7,720.3 1163.4,722.8 1164.9,722.8 C1166.4,722.8 1166.7,720.0 1168.2,720.4 C1169.8,720.8 1171.8,723.6 1174.0,725.2 C1176.1,726.8 1180.1,728.1 1181.1,730.0 C1182.2,731.8 1181.0,733.9 1180.2,736.2 C1179.4,738.4 1177.8,740.9 1176.4,743.3 C1174.9,745.7 1173.2,748.7 1171.6,750.5 C1170.0,752.2 1168.2,753.0 1166.8,753.8 C1165.5,754.6 1164.3,756.2 1163.5,755.2 C1162.7,754.3 1162.7,750.3 1162.0,748.1 C1161.4,745.9 1161.0,743.5 1159.7,741.9 C1158.3,740.3 1155.4,739.7 1153.9,738.6 C1152.5,737.4 1152.3,735.6 1151.1,734.7 C1149.8,733.9 1146.9,734.3 1146.3,733.3 C1145.8,732.3 1147.1,729.9 1147.7,728.5 C1148.4,727.2 1148.8,726.0 1150.1,725.2 Z" fill="#5a80b4" />
<path d="M1204.8,689.0 C1203.7,688.1 1203.2,683.8 1203.9,682.8 C1204.5,681.7 1209.2,682.2 1210.1,681.3 C1210.9,680.5 1209.3,677.7 1210.1,676.6 C1210.8,675.4 1214.6,674.0 1215.8,672.7 C1216.9,671.5 1218.0,668.3 1218.6,667.0 C1219.3,665.7 1220.0,663.3 1220.5,663.2 C1221.1,663.1 1221.4,665.8 1222.5,666.5 C1223.5,667.2 1226.9,668.5 1228.2,668.4 C1229.4,668.4 1231.4,667.2 1232.0,666.1 C1232.6,664.9 1232.2,661.0 1232.9,659.9 C1233.6,658.7 1236.6,658.5 1237.2,657.5 C1237.9,656.5 1237.5,654.2 1237.7,652.2 C1238.0,650.3 1238.3,644.6 1239.1,642.7 C1240.0,640.8 1242.3,638.3 1243.9,637.9 C1245.5,637.5 1249.9,639.0 1251.1,639.8 C1252.2,640.7 1252.9,643.2 1252.5,644.1 C1252.1,645.0 1247.9,645.9 1247.7,646.5 C1247.5,647.1 1249.5,649.4 1251.1,648.9 C1252.6,648.4 1257.8,644.2 1259.2,642.7 C1260.6,641.2 1260.3,638.8 1261.6,637.9 C1262.8,637.0 1267.2,636.7 1268.7,636.0 C1270.2,635.4 1271.7,634.2 1272.5,633.2 C1273.4,632.1 1274.2,628.4 1274.9,628.4 C1275.6,628.4 1276.8,632.8 1277.8,633.2 C1278.7,633.5 1281.0,631.7 1282.1,630.8 C1283.1,629.8 1284.2,627.3 1285.9,626.0 C1287.6,624.7 1292.5,622.4 1294.9,621.2 C1297.4,620.0 1302.5,617.8 1304.5,616.9 C1306.5,616.1 1308.3,614.5 1309.7,615.0 C1311.1,615.6 1313.1,620.0 1315.0,621.2 C1316.8,622.5 1321.1,623.8 1323.6,624.6 C1326.0,625.3 1330.6,626.4 1333.1,627.0 C1335.6,627.5 1339.8,627.9 1342.6,628.4 C1345.5,628.9 1351.7,630.1 1354.6,630.8 C1357.4,631.4 1362.8,630.3 1364.1,633.2 C1365.4,636.0 1364.9,649.0 1364.1,652.2 C1363.3,655.5 1359.3,655.6 1358.4,657.5 C1357.4,659.4 1357.5,665.2 1356.9,666.5 C1356.4,667.9 1354.8,668.8 1354.1,667.7 C1353.4,666.6 1353.2,660.3 1351.7,658.2 C1350.2,656.1 1344.7,652.1 1342.6,652.2 C1340.5,652.3 1337.2,657.0 1336.0,658.9 C1334.7,660.8 1332.8,664.6 1333.1,666.5 C1333.4,668.5 1337.7,672.4 1337.9,673.7 C1338.1,675.0 1335.5,675.7 1334.5,676.6 C1333.6,677.4 1330.9,678.6 1330.7,679.9 C1330.5,681.2 1333.2,685.4 1333.1,686.6 C1333.0,687.8 1330.5,688.4 1329.8,689.0 C1329.0,689.5 1328.1,689.7 1327.4,690.9 C1326.6,692.0 1325.0,696.0 1324.0,697.5 C1323.1,699.1 1321.5,701.4 1320.2,702.3 C1318.9,703.3 1315.9,704.1 1314.5,704.7 C1313.1,705.3 1310.0,705.8 1309.7,707.1 C1309.4,708.4 1312.1,712.3 1312.1,714.2 C1312.1,716.1 1310.6,721.0 1309.7,721.4 C1308.8,721.8 1306.3,717.3 1305.4,717.1 C1304.5,716.9 1303.0,718.4 1303.1,720.0 C1303.1,721.5 1305.1,726.4 1305.9,728.5 C1306.7,730.7 1309.1,735.3 1309.3,736.2 C1309.4,737.1 1307.8,736.9 1306.9,735.2 C1305.9,733.6 1303.2,726.6 1302.1,723.8 C1301.0,721.0 1299.7,716.5 1298.8,714.2 C1297.8,712.0 1296.1,708.7 1294.9,707.1 C1293.8,705.5 1291.1,702.8 1290.2,702.3 C1289.2,701.9 1288.7,702.5 1287.8,703.7 C1286.9,705.0 1284.6,709.4 1283.5,711.8 C1282.4,714.3 1280.6,722.0 1279.7,722.3 C1278.8,722.7 1277.8,716.6 1276.8,714.2 C1275.9,711.9 1273.5,706.5 1272.5,704.7 C1271.6,702.9 1270.8,701.5 1269.7,700.9 C1268.5,700.2 1265.3,700.4 1263.9,699.9 C1262.5,699.5 1260.5,698.2 1259.2,697.5 C1257.8,696.9 1255.0,696.0 1253.9,695.2 C1252.8,694.3 1251.1,691.0 1251.1,691.3 C1251.1,691.7 1252.8,696.7 1253.9,698.0 C1255.1,699.4 1259.2,700.1 1259.7,701.4 C1260.1,702.6 1258.7,705.6 1257.3,707.1 C1255.8,708.5 1250.3,712.1 1248.7,712.3 C1247.0,712.5 1245.8,710.2 1244.9,708.5 C1243.9,706.9 1242.5,702.0 1241.5,699.9 C1240.6,697.8 1238.3,694.4 1237.7,692.8 C1237.1,691.1 1237.6,688.3 1236.8,687.5 C1235.9,686.8 1232.8,687.2 1231.0,687.0 C1229.3,686.9 1224.9,687.0 1223.9,686.6 C1222.9,686.1 1223.1,684.5 1223.4,683.7 C1223.7,682.9 1225.9,681.0 1225.8,680.8 C1225.7,680.7 1223.2,681.8 1222.9,682.8 C1222.6,683.7 1223.7,687.6 1223.4,688.0 C1223.1,688.4 1221.1,686.5 1220.5,685.6 C1220.0,684.7 1219.6,682.3 1219.1,681.3 C1218.6,680.4 1217.3,679.0 1216.7,678.5 C1216.2,678.0 1215.2,677.4 1214.8,677.5 C1214.4,677.6 1213.9,678.5 1213.9,678.9 C1213.9,679.4 1215.0,680.3 1214.8,680.8 C1214.7,681.4 1212.8,682.2 1212.7,682.8 C1212.5,683.3 1214.0,684.3 1213.9,685.1 C1213.8,686.0 1213.2,688.4 1212.0,689.0 C1210.7,689.5 1205.9,689.8 1204.8,689.0 Z" fill="#e9ebea"/>
<path d="M1216.7,663.2 C1216.6,661.8 1217.5,659.1 1218.2,657.0 C1218.8,654.9 1218.9,653.4 1220.5,650.3 C1222.2,647.2 1225.3,641.1 1228.2,638.4 C1231.0,635.7 1235.0,634.5 1237.7,634.1 C1240.4,633.7 1243.4,635.2 1244.4,636.0 C1245.4,636.8 1244.6,637.8 1243.7,638.9 C1242.8,640.0 1240.1,640.9 1238.9,642.7 C1237.8,644.5 1237.0,647.9 1236.8,649.8 C1236.6,651.8 1238.1,653.3 1237.7,654.6 C1237.3,655.9 1235.5,657.3 1234.4,657.5 C1233.3,657.7 1231.8,656.9 1231.0,655.8 C1230.3,654.7 1229.9,652.6 1230.1,651.0 C1230.2,649.4 1231.9,647.5 1232.0,646.3 C1232.1,645.1 1231.4,643.3 1230.6,643.9 C1229.8,644.5 1227.9,647.6 1227.2,649.8 C1226.5,652.1 1226.5,655.1 1226.3,657.5 C1226.0,659.9 1226.3,662.6 1225.8,664.2 C1225.3,665.7 1224.2,666.9 1223.4,666.5 C1222.6,666.2 1221.7,662.4 1221.0,662.2 C1220.3,662.1 1219.8,665.4 1219.1,665.6 C1218.4,665.7 1216.9,664.6 1216.7,663.2 Z" fill="#e9ebea" />
<path d="M1236.8,679.9 C1237.4,679.0 1240.7,678.2 1242.5,678.5 C1244.3,678.7 1247.1,680.4 1247.7,681.3 C1248.3,682.3 1247.5,683.8 1246.1,684.2 C1244.6,684.6 1240.5,684.4 1238.9,683.7 C1237.4,683.0 1236.2,680.8 1236.8,679.9 Z" fill="#c6d3d2" />
<path d="M1254.9,676.1 C1255.4,675.1 1257.5,675.7 1258.2,677.3 C1258.9,678.9 1259.4,683.6 1259.2,685.6 C1258.9,687.6 1257.5,689.8 1256.8,689.4 C1256.1,689.0 1255.2,685.5 1254.9,683.2 C1254.6,681.0 1254.3,677.1 1254.9,676.1 Z" fill="#c6d3d2" />
<path d="M1204.8,660.3 C1205.5,659.0 1208.7,656.2 1210.1,656.5 C1211.4,656.8 1212.1,660.3 1212.9,662.2 C1213.7,664.2 1214.7,666.6 1214.8,668.4 C1214.9,670.3 1214.7,672.5 1213.4,673.2 C1212.0,673.9 1207.4,673.8 1206.7,672.7 C1206.0,671.7 1209.3,668.4 1209.1,667.0 C1208.9,665.7 1206.5,665.7 1205.8,664.6 C1205.0,663.5 1204.1,661.7 1204.8,660.3 Z" fill="#b0617a" />
<path d="M1203.9,665.6 C1204.2,664.7 1206.2,664.4 1206.7,665.1 C1207.3,665.8 1207.6,669.0 1207.2,669.9 C1206.8,670.8 1204.9,671.1 1204.3,670.4 C1203.8,669.6 1203.5,666.5 1203.9,665.6 Z" fill="#e9ebea" />
<path d="M1218.2,666.5 C1219.2,664.8 1223.6,664.6 1224.8,665.6 C1226.1,666.6 1226.0,670.8 1225.8,672.7 C1225.6,674.7 1224.6,677.0 1223.4,677.5 C1222.2,678.1 1219.5,677.9 1218.6,676.1 C1217.8,674.2 1217.1,668.3 1218.2,666.5 Z" fill="#5c9f5c" />
<path d="M1210.1,675.6 C1211.6,674.9 1216.5,672.3 1218.2,673.2 C1219.8,674.1 1220.4,679.1 1220.1,680.8 C1219.7,682.6 1217.7,683.7 1216.3,683.9 C1214.8,684.2 1212.7,683.4 1211.5,682.3 C1210.3,681.2 1209.3,678.6 1209.1,677.5 C1208.9,676.4 1208.5,676.3 1210.1,675.6 Z" fill="#f6c28c" />
<path d="M1204.3,682.3 C1205.7,681.2 1212.1,681.7 1213.9,682.3 C1215.7,682.8 1215.5,684.4 1215.1,685.6 C1214.7,686.8 1213.0,688.9 1211.5,689.4 C1209.9,689.9 1207.0,689.9 1205.8,688.7 C1204.6,687.5 1203.0,683.4 1204.3,682.3 Z" fill="#3f8f80" />
<path d="M1218.6,677.5 C1219.4,677.2 1222.2,677.5 1223.4,678.5 C1224.6,679.4 1224.9,681.8 1225.8,683.2 C1226.7,684.7 1228.7,686.3 1228.7,687.0 C1228.7,687.8 1226.8,688.7 1225.8,688.0 C1224.8,687.3 1223.6,684.0 1222.5,682.8 C1221.3,681.5 1219.7,681.2 1219.1,680.4 C1218.5,679.5 1217.9,677.8 1218.6,677.5 Z" fill="#5ca562" />
<path d="M1259.7,626.5 C1259.4,625.0 1262.3,621.8 1264.4,619.8 C1266.6,617.8 1271.6,614.3 1272.5,614.6 C1273.5,614.8 1271.3,618.9 1270.1,621.2 C1269.0,623.5 1267.6,627.5 1265.9,628.4 C1264.1,629.3 1259.9,627.9 1259.7,626.5 Z" fill="#f2f4f3" />
<path d="M1222.5,600.7 C1223.4,599.1 1229.1,598.5 1230.6,599.8 C1232.0,601.0 1232.0,606.8 1231.0,608.4 C1230.1,609.9 1226.3,610.6 1224.8,609.3 C1223.4,608.0 1221.5,602.3 1222.5,600.7 Z" fill="#f2f4f3" />
<path d="M1294.9,600.2 C1296.0,599.1 1300.9,598.8 1302.1,599.8 C1303.3,600.7 1303.1,604.9 1302.1,606.0 C1301.1,607.1 1297.1,607.4 1295.9,606.4 C1294.7,605.5 1293.9,601.4 1294.9,600.2 Z" fill="#f2f4f3" />
<path d="M1333.1,617.9 C1334.5,617.1 1341.0,616.4 1342.6,616.9 C1344.3,617.5 1344.5,620.4 1343.1,621.2 C1341.7,622.0 1335.7,622.3 1334.1,621.7 C1332.4,621.2 1331.7,618.7 1333.1,617.9 Z" fill="#f2f4f3" />
<path d="M1197.2,697.5 C1198.6,695.2 1201.1,691.7 1203.1,690.4 C1205.2,689.1 1206.8,690.1 1209.6,689.9 C1212.4,689.7 1217.9,688.7 1219.8,689.2 C1221.7,689.7 1219.6,691.8 1221.0,692.8 C1222.4,693.8 1225.6,695.2 1228.2,695.2 C1230.8,695.2 1235.0,692.8 1236.8,692.8 C1238.5,692.7 1237.9,693.0 1238.7,694.7 C1239.5,696.3 1240.3,699.9 1241.5,702.8 C1242.8,705.6 1243.9,709.9 1246.3,711.8 C1248.7,713.8 1254.1,713.4 1255.8,714.2 C1257.6,715.1 1257.6,715.0 1256.8,717.1 C1256.0,719.2 1252.7,723.9 1251.1,726.6 C1249.5,729.4 1248.0,731.0 1247.3,733.8 C1246.5,736.6 1247.3,740.5 1246.3,743.3 C1245.3,746.1 1243.1,748.1 1241.5,750.5 C1239.9,752.9 1238.6,755.6 1236.8,757.6 C1234.9,759.6 1232.4,761.8 1230.6,762.4 C1228.7,763.0 1227.0,762.6 1225.8,761.0 C1224.6,759.3 1224.2,755.4 1223.4,752.4 C1222.6,749.4 1221.8,746.0 1221.0,742.8 C1220.2,739.7 1219.4,736.1 1218.6,733.3 C1217.8,730.5 1217.0,727.9 1216.3,726.2 C1215.5,724.4 1215.1,723.4 1213.9,722.8 C1212.7,722.3 1211.1,722.7 1209.1,722.8 C1207.1,723.0 1203.9,724.4 1201.9,723.8 C1200.0,723.1 1198.6,721.0 1197.2,719.0 C1195.8,717.0 1194.1,714.2 1193.6,711.8 C1193.1,709.5 1193.7,707.1 1194.3,704.7 C1194.9,702.3 1195.7,699.9 1197.2,697.5 Z" fill="#e9ebea" />
<path d="M1252.0,738.1 C1252.8,735.7 1255.4,734.1 1255.8,735.7 C1256.3,737.3 1255.7,745.2 1254.9,747.6 C1254.1,750.0 1251.5,751.6 1251.1,750.0 C1250.6,748.4 1251.2,740.5 1252.0,738.1 Z" fill="#e9ebea" />
<path d="M1278.3,685.6 C1278.3,684.0 1280.5,682.2 1282.1,680.8 C1283.7,679.5 1286.4,678.7 1287.8,677.5 C1289.1,676.3 1289.0,673.5 1290.2,673.7 C1291.4,673.9 1293.0,677.3 1294.9,678.5 C1296.9,679.7 1299.3,680.4 1302.1,680.8 C1304.9,681.2 1309.3,681.6 1311.6,680.8 C1314.0,680.1 1315.0,677.7 1316.4,676.1 C1317.8,674.5 1319.8,672.7 1320.2,671.3 C1320.6,669.9 1318.2,668.3 1318.8,667.7 C1319.3,667.1 1322.0,666.7 1323.6,667.7 C1325.1,668.7 1326.9,672.1 1328.3,673.7 C1329.8,675.3 1331.9,676.3 1332.1,677.5 C1332.4,678.7 1330.8,680.1 1329.8,680.8 C1328.7,681.6 1327.0,681.5 1325.9,682.3 C1324.9,683.1 1323.3,684.3 1323.6,685.6 C1323.8,687.0 1327.3,688.4 1327.4,690.4 C1327.5,692.4 1325.2,695.6 1324.0,697.5 C1322.8,699.5 1321.8,701.1 1320.2,702.3 C1318.6,703.5 1316.3,704.1 1314.5,704.7 C1312.7,705.3 1310.9,706.3 1309.3,706.1 C1307.6,706.0 1305.8,704.5 1304.5,703.7 C1303.1,702.9 1302.7,702.4 1301.1,701.4 C1299.6,700.3 1297.2,698.3 1294.9,697.5 C1292.7,696.7 1289.9,697.8 1287.8,696.6 C1285.6,695.4 1283.7,692.2 1282.1,690.4 C1280.5,688.6 1278.3,687.2 1278.3,685.6 Z" fill="#f0953a" />
<path d="M1325.0,688.0 C1325.4,687.3 1327.3,687.0 1327.9,687.5 C1328.4,688.1 1328.7,690.6 1328.3,691.3 C1327.9,692.1 1326.0,692.4 1325.5,691.8 C1324.9,691.3 1324.6,688.7 1325.0,688.0 Z" fill="#f7dba4" />
<path d="M1329.8,692.8 C1329.9,692.0 1332.0,690.6 1333.1,689.4 C1334.2,688.2 1335.5,687.2 1336.4,685.6 C1337.4,684.0 1338.0,680.7 1338.8,679.9 C1339.6,679.1 1341.1,679.7 1341.2,680.8 C1341.3,682.0 1340.3,685.2 1339.3,687.0 C1338.3,688.9 1336.7,690.6 1335.5,691.8 C1334.3,693.0 1333.1,694.0 1332.1,694.2 C1331.2,694.4 1329.6,693.6 1329.8,692.8 Z" fill="#b8a845" />
<path d="M1337.9,676.1 C1338.3,675.5 1340.2,675.1 1340.7,675.6 C1341.3,676.1 1341.6,678.4 1341.2,678.9 C1340.8,679.5 1338.9,679.4 1338.3,678.9 C1337.8,678.5 1337.5,676.6 1337.9,676.1 Z" fill="#b8a845" />
<path d="M1322.6,702.8 C1322.9,702.1 1324.3,701.8 1324.5,702.3 C1324.8,702.9 1324.4,705.5 1324.0,706.1 C1323.7,706.8 1322.8,706.7 1322.6,706.1 C1322.4,705.6 1322.3,703.4 1322.6,702.8 Z" fill="#e9ebea" />
<path d="M1319.7,709.0 C1320.2,708.0 1322.4,707.2 1323.1,708.0 C1323.7,708.9 1323.2,712.4 1323.6,714.2 C1323.9,716.1 1325.3,718.2 1325.0,719.0 C1324.7,719.8 1322.4,719.8 1321.7,719.0 C1320.9,718.2 1320.5,715.9 1320.2,714.2 C1319.9,712.6 1319.3,710.0 1319.7,709.0 Z" fill="#e9ebea" />
<path d="M1302.1,727.6 C1302.5,727.1 1304.4,728.2 1305.9,730.0 C1307.4,731.7 1310.7,736.6 1311.2,738.1 C1311.6,739.6 1310.0,739.9 1308.8,739.0 C1307.5,738.2 1304.6,734.7 1303.5,732.8 C1302.4,730.9 1301.7,728.1 1302.1,727.6 Z" fill="#e9ebea" />
<path d="M1314.0,725.7 C1315.1,724.5 1319.3,723.1 1320.7,723.8 C1322.1,724.5 1322.9,728.5 1322.6,730.0 C1322.3,731.5 1320.1,732.7 1318.8,732.8 C1317.4,733.0 1315.3,732.1 1314.5,730.9 C1313.7,729.7 1313.0,726.9 1314.0,725.7 Z" fill="#e9ebea" />
<path d="M1312.1,739.5 C1314.0,739.3 1321.7,739.6 1323.6,740.0 C1325.5,740.4 1325.5,741.7 1323.6,741.9 C1321.7,742.1 1314.0,741.8 1312.1,741.4 C1310.2,741.0 1310.2,739.7 1312.1,739.5 Z" fill="#e9ebea" />
<path d="M1325.0,728.5 C1325.4,727.4 1327.7,726.6 1328.3,727.6 C1329.0,728.6 1329.2,733.6 1328.8,734.7 C1328.4,735.9 1326.6,735.3 1325.9,734.3 C1325.3,733.2 1324.6,729.7 1325.0,728.5 Z" fill="#e9ebea" />
<path d="M1333.1,730.0 C1334.2,729.5 1337.8,729.7 1340.3,730.4 C1342.7,731.2 1346.8,733.2 1347.9,734.3 C1348.9,735.3 1348.0,736.5 1346.5,736.6 C1344.9,736.8 1341.0,735.8 1338.8,735.2 C1336.7,734.7 1334.5,734.2 1333.6,733.3 C1332.6,732.4 1332.0,730.4 1333.1,730.0 Z" fill="#e9ebea" />
<path d="M1282.1,722.8 C1282.3,722.3 1283.6,721.9 1284.0,722.3 C1284.4,722.8 1284.7,725.1 1284.5,725.7 C1284.2,726.2 1282.9,726.2 1282.5,725.7 C1282.1,725.2 1281.8,723.4 1282.1,722.8 Z" fill="#e9ebea" />
<path d="M1342.6,659.4 C1343.0,657.3 1344.5,656.9 1345.0,658.9 C1345.5,660.9 1345.8,669.2 1345.5,671.3 C1345.2,673.4 1343.6,673.3 1343.1,671.3 C1342.6,669.3 1342.3,661.5 1342.6,659.4 Z" fill="#e9ebea" />
<path d="M1314.0,743.3 C1315.3,741.5 1318.0,739.4 1320.2,738.1 C1322.4,736.8 1325.6,736.6 1327.4,735.7 C1329.1,734.7 1329.4,732.4 1330.7,732.4 C1332.1,732.4 1334.1,735.7 1335.5,735.7 C1336.9,735.7 1338.1,731.9 1339.3,732.4 C1340.5,732.8 1341.3,736.0 1342.6,738.6 C1344.0,741.1 1346.8,744.9 1347.4,747.6 C1348.0,750.3 1347.4,752.5 1346.5,754.8 C1345.5,757.0 1343.9,759.9 1341.7,761.0 C1339.5,762.0 1335.3,761.6 1333.1,761.0 C1330.9,760.3 1330.3,757.8 1328.3,757.2 C1326.3,756.5 1323.3,757.6 1321.2,757.2 C1319.0,756.8 1316.9,756.1 1315.5,754.8 C1314.0,753.4 1312.8,751.0 1312.6,749.0 C1312.4,747.1 1312.7,745.2 1314.0,743.3 Z" fill="#f2f4f3" />
<path d="M1340.3,763.4 C1340.8,762.7 1343.5,762.3 1344.1,762.9 C1344.6,763.4 1344.1,766.1 1343.6,766.7 C1343.0,767.3 1341.3,767.3 1340.7,766.7 C1340.2,766.1 1339.7,764.0 1340.3,763.4 Z" fill="#f2f4f3" />
</g>
<rect x="1073.6" y="596.2" width="287.5" height="186.4" fill="none" stroke="#000" stroke-width="1.1"/>
<line x1="1073" y1="596.4" x2="1361.7" y2="596.4" stroke="#05071a" stroke-width="2.3"/>
</g>
<g id="flows" fill="none" stroke-width="0.9">
<path d="M920.2,671.2 C929.3,671.2 961.7,671.4 975.0,671.2 C988.3,671.0 993.5,670.2 1000.0,669.8 C1006.5,669.4 1009.2,669.2 1014.0,668.6 C1018.8,668.0 1025.1,667.0 1028.8,666.2 C1032.5,665.4 1031.3,664.5 1036.3,663.8 C1041.3,663.1 1048.7,662.5 1058.6,661.9 C1068.5,661.3 1084.5,660.6 1095.7,660.3 C1106.9,660.0 1121.0,660.3 1126.0,660.3" stroke="#4f74c2"/>
<path d="M920.2,671.2 C968.3,671.1 1160.9,670.6 1209.0,670.5" stroke="#4f74c2"/>
<path d="M920.2,671.2 C934.0,671.3 979.8,671.2 1002.9,671.8 C1026.0,672.4 1043.1,673.5 1058.6,674.6 C1074.1,675.8 1086.4,677.4 1095.7,678.7 C1105.0,680.0 1109.7,681.2 1114.3,682.4 C1118.9,683.6 1117.4,684.6 1123.6,685.7 C1129.8,686.8 1143.7,688.2 1151.4,689.1 C1159.1,690.0 1158.6,690.3 1170.0,690.9 C1181.4,691.5 1205.0,692.3 1220.0,692.8 C1235.0,693.3 1245.8,693.5 1260.0,693.8 C1274.2,694.1 1297.5,694.5 1305.0,694.6" stroke="#4f74c2"/>
<path d="M920.2,671.2 C929.3,671.3 961.2,670.8 975.0,671.8 C988.8,672.8 993.6,675.2 1002.9,677.4 C1012.2,679.6 1023.3,682.2 1030.7,684.8 C1038.1,687.4 1043.1,690.2 1047.4,693.1 C1051.7,696.0 1054.5,699.6 1056.7,702.4 C1058.9,705.2 1057.6,707.1 1060.4,709.9 C1063.2,712.7 1067.5,716.2 1073.4,719.1 C1079.3,722.0 1087.3,725.3 1095.7,727.5 C1104.1,729.7 1114.6,731.0 1123.6,732.1 C1132.6,733.2 1144.9,734.0 1149.6,734.4 C1154.3,734.8 1151.6,734.4 1152.0,734.4" stroke="#4f74c2"/>
<path d="M1133.8,666.6 C1127.5,666.9 1105.8,667.3 1095.7,668.1 C1085.6,668.9 1080.8,669.7 1073.4,671.2 C1066.0,672.8 1057.3,675.5 1051.1,677.4 C1044.9,679.3 1040.0,680.9 1036.3,682.9 C1032.6,684.9 1030.7,687.4 1028.8,689.4 C1026.9,691.4 1027.6,693.0 1025.1,695.0 C1022.6,697.0 1019.2,699.5 1014.0,701.5 C1008.8,703.5 1001.6,705.5 993.6,707.1 C985.6,708.7 976.0,710.3 965.7,711.2 C955.4,712.1 937.6,712.1 932.0,712.3" stroke="#ee8440"/>
<path d="M1216.0,678.5 C1208.3,678.7 1183.9,679.1 1170.0,679.8 C1156.1,680.5 1143.6,681.6 1132.8,682.9 C1122.0,684.2 1112.4,685.9 1105.0,687.6 C1097.6,689.3 1092.0,691.2 1088.3,693.1 C1084.6,695.0 1085.2,697.0 1082.7,698.7 C1080.2,700.4 1080.5,701.9 1073.4,703.4 C1066.3,704.9 1053.3,706.7 1040.0,708.0 C1026.7,709.3 1011.6,710.5 993.6,711.2 C975.6,711.9 942.3,712.1 932.0,712.3" stroke="#ee8440"/>
<path d="M1299.7,686.1 C1293.3,686.2 1273.8,686.5 1261.5,686.8 C1249.2,687.1 1237.7,687.5 1225.8,688.0 C1213.9,688.5 1199.3,689.2 1190.0,689.9 C1180.7,690.6 1178.0,691.3 1170.0,692.2 C1162.0,693.1 1148.9,694.3 1142.1,695.4 C1135.3,696.5 1132.2,697.7 1129.1,698.7 C1126.0,699.7 1127.6,700.4 1123.6,701.5 C1119.6,702.6 1113.4,704.0 1105.0,705.2 C1096.6,706.4 1087.3,707.9 1073.4,708.9 C1059.5,709.9 1045.0,710.6 1021.4,711.2 C997.8,711.8 946.9,712.1 932.0,712.3" stroke="#ee8440"/>
<path d="M1165.3,738.6 C1159.9,738.5 1144.4,738.2 1132.8,737.7 C1121.2,737.2 1105.6,736.3 1095.7,735.5 C1085.8,734.7 1080.2,734.0 1073.4,733.1 C1066.6,732.2 1059.5,731.5 1054.9,730.3 C1050.3,729.0 1048.1,727.1 1045.6,725.6 C1043.1,724.1 1044.0,722.4 1040.0,721.0 C1036.0,719.6 1030.7,718.5 1021.4,717.3 C1012.1,716.1 999.2,714.7 984.3,713.9 C969.4,713.1 940.7,712.6 932.0,712.3" stroke="#ee8440"/>
</g>
<g id="flow-heads">
<polygon fill="#3f6fc6" points="1133.8,660.3 1125.2,655.8 1125.2,664.8"/>
<polygon fill="#3f6fc6" points="1216.6,670.5 1208.0,666.0 1208.0,675.0"/>
<polygon fill="#3f6fc6" points="1312.8,694.7 1304.2,690.2 1304.2,699.2"/>
<polygon fill="#3f6fc6" points="1158.8,734.4 1150.2,729.9 1150.2,738.9"/>
<polygon fill="#e8781f" points="924.4,712.3 933,707.9 933,716.7"/>
</g>

</svg>
</body></html>
